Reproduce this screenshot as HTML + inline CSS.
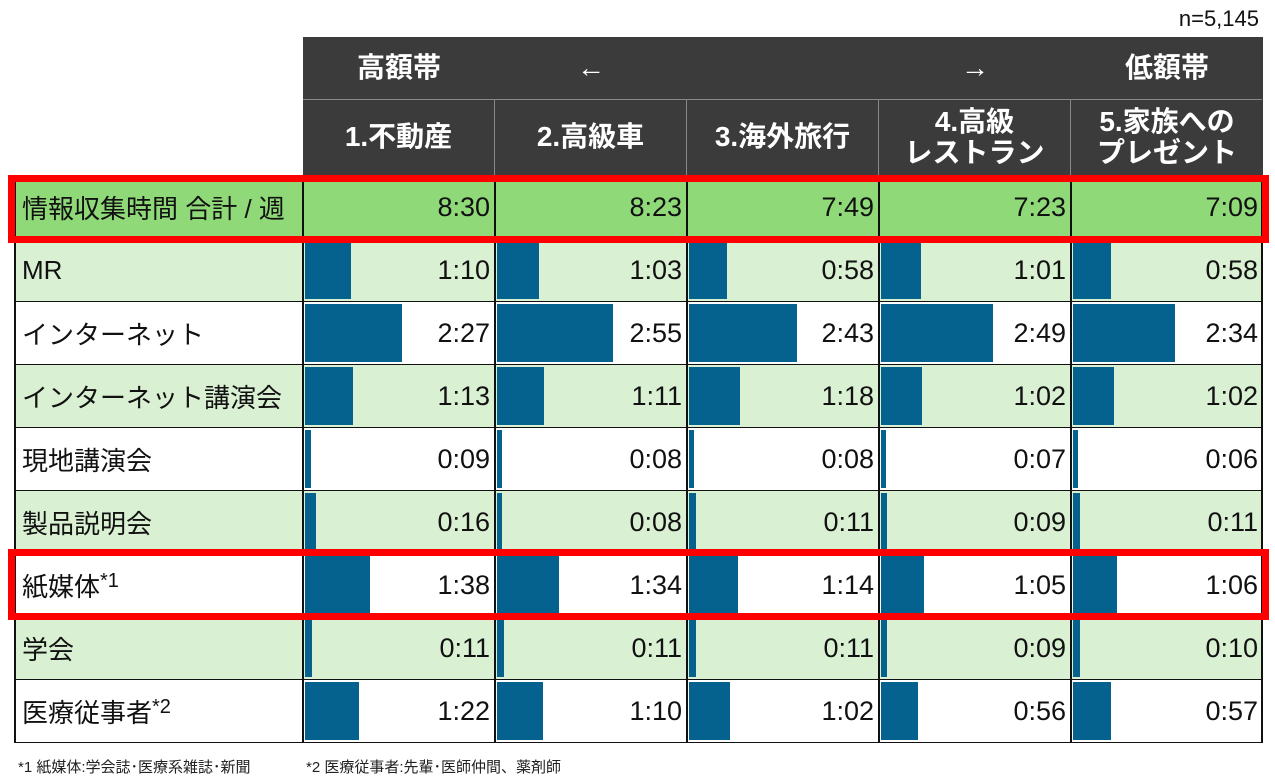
<!DOCTYPE html><html><head><meta charset="utf-8"><style>
body{margin:0;width:1275px;height:778px;background:#fff;position:relative;overflow:hidden;font-family:"Liberation Sans","Noto Sans CJK JP",sans-serif;color:#111}
div{position:absolute;box-sizing:border-box}
.h{background:#3b3b3b;color:#fff;font-size:28px;font-weight:bold;text-align:center;display:flex;align-items:center;justify-content:center;line-height:1.1}
.c{border-bottom:1.5px solid #111}
.l{font-size:26px;padding-left:8px;display:flex;align-items:center}
.v{font-size:27px;text-align:right;padding-right:5px;display:flex;align-items:center;justify-content:flex-end}
.b{background:#05628f}
.red{border:7px solid #f00}
.vl{width:2px;background:#111;top:176px;height:567px}
sup{font-size:20px;position:relative;top:-4px}
</style></head><body>
<div style="right:16px;top:6px;font-size:22px">n=5,145</div>
<div class="h" style="left:303px;top:37px;width:959px;height:63px"></div>
<div class="h" style="left:303px;top:37px;width:192px;height:63px">高額帯</div>
<div class="h" style="left:495px;top:37px;width:192px;height:63px">←</div>
<div class="h" style="left:879px;top:37px;width:192px;height:63px">→</div>
<div class="h" style="left:1071px;top:37px;width:192px;height:63px">低額帯</div>
<div style="left:303px;top:99px;width:959px;height:1px;background:#888"></div>
<div class="h" style="left:303px;top:100px;width:192px;height:75px;border-right:1px solid #888">1.不動産</div>
<div class="h" style="left:495px;top:100px;width:192px;height:75px;border-right:1px solid #888">2.高級車</div>
<div class="h" style="left:687px;top:100px;width:192px;height:75px;border-right:1px solid #888">3.海外旅行</div>
<div class="h" style="left:879px;top:100px;width:192px;height:75px;border-right:1px solid #888">4.高級<br>レストラン</div>
<div class="h" style="left:1071px;top:100px;width:192px;height:75px">5.家族への<br>プレゼント</div>
<div id="t"></div>
<script>
const rows=[["情報収集時間 合計 / 週",["8:30","8:23","7:49","7:23","7:09"],"#8fd978",0],
["MR",["1:10","1:03","0:58","1:01","0:58"],"#d9f0d2",1],
["インターネット",["2:27","2:55","2:43","2:49","2:34"],"#fff",1],
["インターネット講演会",["1:13","1:11","1:18","1:02","1:02"],"#d9f0d2",1],
["現地講演会",["0:09","0:08","0:08","0:07","0:06"],"#fff",1],
["製品説明会",["0:16","0:08","0:11","0:09","0:11"],"#d9f0d2",1],
["紙媒体<sup>*1</sup>",["1:38","1:34","1:14","1:05","1:06"],"#fff",1],
["学会",["0:11","0:11","0:11","0:09","0:10"],"#d9f0d2",1],
["医療従事者<sup>*2</sup>",["1:22","1:10","1:02","0:56","0:57"],"#fff",1]];
let h="";
rows.forEach((r,i)=>{
 const top=i==0?176:239+(i-1)*63, ht=63;
 h+=`<div class="c" style="left:14px;top:${top}px;width:1249px;height:${ht}px;background:${r[2]}"></div>`;
 h+=`<div class="l" style="left:14px;top:${top}px;width:290px;height:${ht}px">${r[0]}</div>`;
 r[1].forEach((v,j)=>{
  const x=303+j*192;
  if(r[3]){const p=v.split(":");const m=+p[0]*60+ +p[1];h+=`<div class="b" style="left:${x+2}px;top:${top+2}px;width:${Math.max(5,Math.round(m*0.66))}px;height:${ht-5}px"></div>`;}
  h+=`<div class="v" style="left:${x}px;top:${top}px;width:192px;height:${ht}px">${v}</div>`;
 });
});
[14,302,494,686,878,1070,1261].forEach(x=>h+=`<div class="vl" style="left:${x}px"></div>`);
document.getElementById("t").outerHTML=h;
</script>
<div class="red" style="left:8px;top:175px;width:1261px;height:68px"></div>
<div class="red" style="left:8px;top:549px;width:1261px;height:71px"></div>
<div style="left:18px;top:756px;font-size:15px;color:#222">*1 紙媒体:学会誌･医療系雑誌･新聞</div>
<div style="left:306px;top:756px;font-size:15px;color:#222">*2 医療従事者:先輩･医師仲間、薬剤師</div>
</body></html>
